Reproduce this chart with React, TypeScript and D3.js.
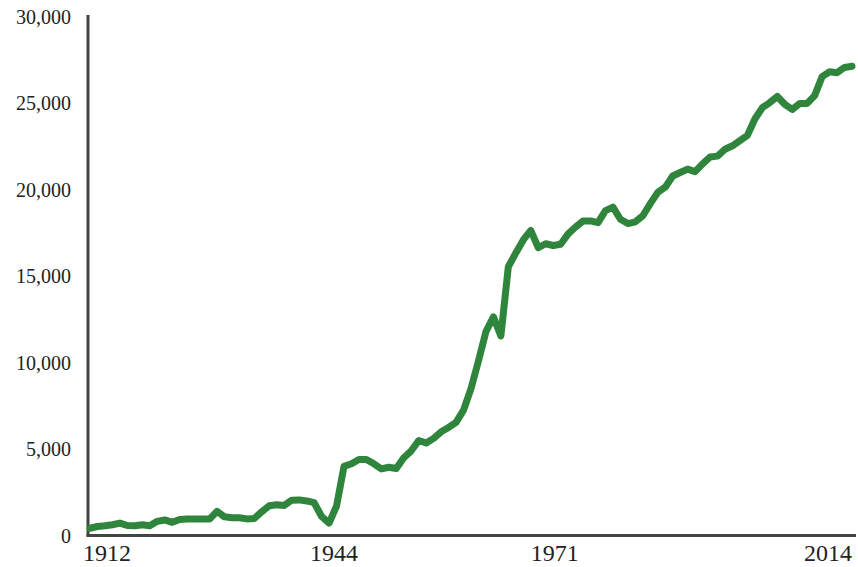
import React from 'react';
import * as d3 from 'd3';

// one value per year, 1912 to 2014
const firstYear = 1912;
const values = [
  420, 520, 560, 620, 720, 580, 560, 620, 560, 820,
  900, 760, 930, 950, 950, 950, 950, 1400, 1080, 1030,
  1030, 960, 990, 1380, 1720, 1780, 1740, 2040, 2060, 2000,
  1900, 1100, 720, 1700, 4000, 4150, 4400, 4400, 4150, 3850,
  3950, 3880, 4500, 4900, 5500, 5350, 5620, 6000, 6250, 6550,
  7250, 8500, 10100, 11800, 12650, 11550, 15550, 16350, 17100, 17650,
  16650, 16880, 16780, 16850, 17450, 17850, 18200, 18200, 18100, 18800,
  19000, 18300, 18050, 18150, 18500, 19200, 19850, 20150, 20800, 21000,
  21200, 21050, 21500, 21900, 21950, 22350, 22550, 22850, 23150, 24100,
  24750, 25050, 25400, 24950, 24650, 25000, 25000, 25450, 26550, 26830,
  26780, 27080, 27150,
];
const years = values.map((_, i) => firstYear + i);

const xTickYears = [1912, 1944, 1971, 2014];
const xTickAnchors = ['start', 'middle', 'start', 'end'];
const xTickNudge = [-7, 5, 0, 0];
const yTicks = [0, 5000, 10000, 15000, 20000, 25000, 30000];

const width = 858;
const height = 567;
const margin = { top: 17, right: 6, bottom: 31.5, left: 90 };
const axisX = 88;

export default function App() {
  const x = d3.scaleLinear()
    .domain([firstYear, years[years.length - 1]])
    .range([margin.left, width - margin.right]);

  const y = d3.scaleLinear()
    .domain([0, 30000])
    .range([height - margin.bottom, margin.top]);

  const line = d3.line<number>()
    .x((_, i) => x(years[i]))
    .y(d => y(d))
    .curve(d3.curveLinear);

  const fmt = d3.format(',');
  const font = '"Liberation Serif", "Times New Roman", serif';

  return (
    <div style={{ position: 'fixed', left: 0, top: 0 }}>
      <svg width={width} height={height} style={{ display: 'block', background: '#fff' }}>
        {/* axes */}
        <line x1={axisX} x2={axisX} y1={15} y2={y(0)} stroke="#444" strokeWidth={3} />
        <line x1={axisX - 1.5} x2={width - 2} y1={y(0)} y2={y(0)} stroke="#444" strokeWidth={3} />

        {yTicks.map(t => (
          <text key={t} x={axisX - 17} y={y(t)} dy="0.35em" textAnchor="end"
            fontFamily={font} fontSize={20} fill="#222">
            {fmt(t)}
          </text>
        ))}

        {xTickYears.map((t, i) => (
          <text key={t} x={x(t)} dx={xTickNudge[i]} y={y(0) + 25} textAnchor={xTickAnchors[i]}
            fontFamily={font} fontSize={24} fill="#222">
            {t}
          </text>
        ))}

        <path d={line(values) || ''} fill="none" stroke="#2e853b" strokeWidth={7}
          strokeLinejoin="round" strokeLinecap="round" />
      </svg>
    </div>
  );
}
